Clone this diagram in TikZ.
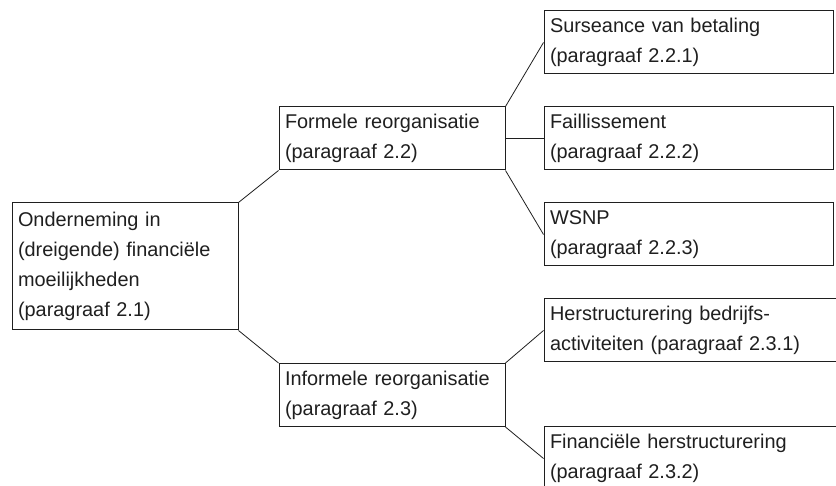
\documentclass[tikz,border=0pt]{standalone}
\usepackage{fontspec}
\setmainfont{Liberation Sans}
\definecolor{inkt}{gray}{0.12}
\tikzset{
  blok/.style={draw=inkt,line width=1pt,align=left,inner xsep=6pt,inner ysep=0pt,
    text=inkt,font=\fontsize{19.9}{30}\selectfont},
  smal/.style={blok,text width=214pt,minimum height=63pt},
  breed/.style={blok,text width=277pt,minimum height=63pt},
  breder/.style={blok,text width=290pt,minimum height=63pt},
  tak/.style={draw=inkt,line width=0.8pt}
}
\begin{document}
\begin{tikzpicture}[x=1pt,y=1pt]
        % page size, the lowest boxes run off the edge
        \useasboundingbox (0,0) rectangle (836,-486);
        \clip (0,0) rectangle (836,-486);

        % the starting point
        \node[smal,minimum height=127pt] (onderneming) at (125,-266.5)
          {Onderneming in\\(dreigende) financiële\\moeilijkheden\\(paragraaf 2.1)};

        % the two ways to reorganise
        \node[smal] (formeel) at (392,-138.5) {Formele reorganisatie\\(paragraaf 2.2)};
        \node[smal] (informeel) at (392,-395) {Informele reorganisatie\\(paragraaf 2.3)};

        % the formal procedures
        \node[breed] (surseance) at (688.5,-42.5) {Surseance van betaling\\(paragraaf 2.2.1)};
        \node[breed] (faillissement) at (688.5,-138.5) {Faillissement\\(paragraaf 2.2.2)};
        \node[breed] (wsnp) at (688.5,-234.5) {WSNP\\(paragraaf 2.2.3)};

        % the informal ones
        \node[breder] (herstructurering) at (695,-330.5)
          {Herstructurering bedrijfs-\\activiteiten (paragraaf 2.3.1)};
        \node[breder] (financieel) at (695,-458.5)
          {Financiële herstructurering\\(paragraaf 2.3.2)};

        % the branches
        \draw[tak] (onderneming.north east) -- (formeel.south west);
        \draw[tak] (onderneming.south east) -- (informeel.north west);
        \draw[tak] (formeel.north east) -- (surseance.west);
        \draw[tak] (formeel.east) -- (faillissement.west);
        \draw[tak] (formeel.south east) -- (wsnp.west);
        \draw[tak] (informeel.north east) -- (herstructurering.west);
        \draw[tak] (informeel.south east) -- (financieel.west);
\end{tikzpicture}
\end{document}
